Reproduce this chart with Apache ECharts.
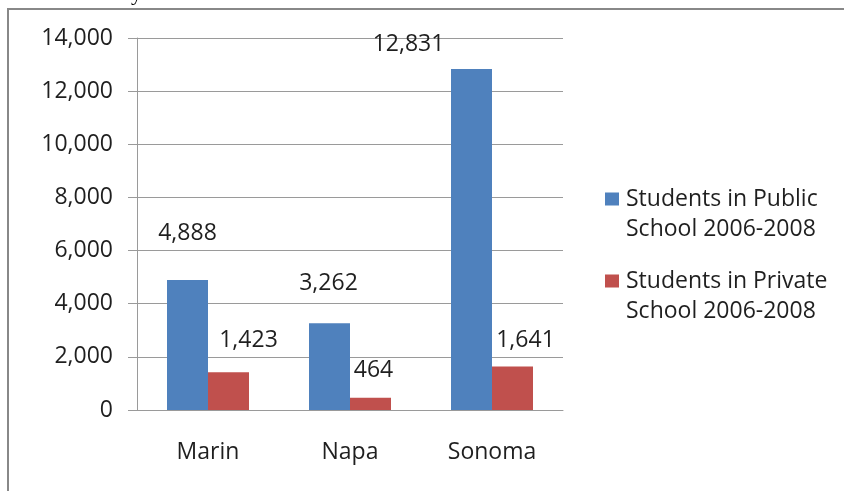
<!DOCTYPE html>
<html>
<head>
<meta charset="utf-8">
<script src="https://cdn.jsdelivr.net/npm/echarts@6/dist/echarts.min.js"></script>
<style>
    html, body { margin: 0; padding: 0; background: #fff; }
    #chart { width: 844px; height: 491px; }
</style>
</head>
<body>
<div id="chart"></div>
<script>
const counties = ['Marin', 'Napa', 'Sonoma'];
const publicStudents = [4888, 3262, 12831];
const privateStudents = [1423, 464, 1641];
const seriesNames = ['Students in Public\nSchool 2006-2008', 'Students in Private\nSchool 2006-2008'];

// where Excel dropped each data label, relative to the top of its bar
const publicLabelOffsets = [[0, -31], [-1, -24], [-63, -9]];
const privateLabelOffsets = [[20, -16], [3, -11], [13, -10]];

const FONT = '"Open Sans", sans-serif';
const FONT_SIZE = 23;
const TEXT = '#1f1f1f';
const GRID_LINE = '#9a9a9a';

// legend square sits on the first text line: the icon path is a 14x13 square
// inside a taller 14x43 box, so the two-line name (centred on the box) lines up
const LEGEND_ICON = 'path://M0,0h14v13h-14z M0,42.99h0.01v0.01h-0.01z';

const fmt = v => v.toLocaleString('en-US');

const withLabels = (values, offsets) => values.map((v, i) => ({
    value: v,
    label: { offset: offsets[i] }
}));

const barLabel = {
    show: true,
    position: 'top',
    distance: 5,
    fontFamily: FONT,
    fontSize: FONT_SIZE,
    lineHeight: 22,
    color: TEXT,
    formatter: p => fmt(p.value)
};

const chart = echarts.init(document.getElementById('chart'));

chart.setOption({
    animation: false,
    backgroundColor: '#fff',
    grid: {
        left: 137,
        right: 281,
        top: 38,
        bottom: 81
    },
    graphic: [
        {
            type: 'rect',
            shape: { x: 8, y: 9, width: 900, height: 600 },
            style: { fill: 'none', stroke: '#888', lineWidth: 2 },
            silent: true
        },
        {
            type: 'text',
            style: {
                text: 'y',
                x: 131,
                y: 5,
                verticalAlign: 'bottom',
                fontFamily: '"Liberation Serif", serif',
                fontSize: 22,
                fill: '#000'
            },
            silent: true
        }
    ],
    legend: {
        orient: 'vertical',
        left: 605,
        top: 184,
        padding: 0,
        itemWidth: 14,
        itemHeight: 43,
        itemGap: 22,
        icon: LEGEND_ICON,
        textStyle: {
            fontFamily: FONT,
            fontSize: FONT_SIZE,
            lineHeight: 30,
            color: TEXT,
            padding: [0, 0, 0, 2]
        },
        data: seriesNames
    },
    xAxis: {
        type: 'category',
        data: counties,
        axisLine: { lineStyle: { color: GRID_LINE } },
        axisTick: { length: 9, lineStyle: { color: GRID_LINE } },
        axisLabel: {
            margin: 31,
            fontFamily: FONT,
            fontSize: FONT_SIZE,
            lineHeight: 22,
            color: TEXT
        }
    },
    yAxis: {
        type: 'value',
        min: 0,
        max: 14000,
        interval: 2000,
        axisLine: { show: true, lineStyle: { color: GRID_LINE } },
        axisTick: { show: true, length: 9, lineStyle: { color: GRID_LINE } },
        splitLine: { lineStyle: { color: GRID_LINE } },
        axisLabel: {
            margin: 24,
            fontFamily: FONT,
            fontSize: FONT_SIZE,
            color: TEXT,
            formatter: fmt
        }
    },
    series: [
        {
            name: seriesNames[0],
            type: 'bar',
            barWidth: 41,
            barGap: '0%',
            itemStyle: { color: '#4f81bd' },
            label: barLabel,
            data: withLabels(publicStudents, publicLabelOffsets)
        },
        {
            name: seriesNames[1],
            type: 'bar',
            barWidth: 41,
            barGap: '0%',
            itemStyle: { color: '#c0504d' },
            label: barLabel,
            data: withLabels(privateStudents, privateLabelOffsets)
        }
    ]
});
</script>
</body>
</html>
